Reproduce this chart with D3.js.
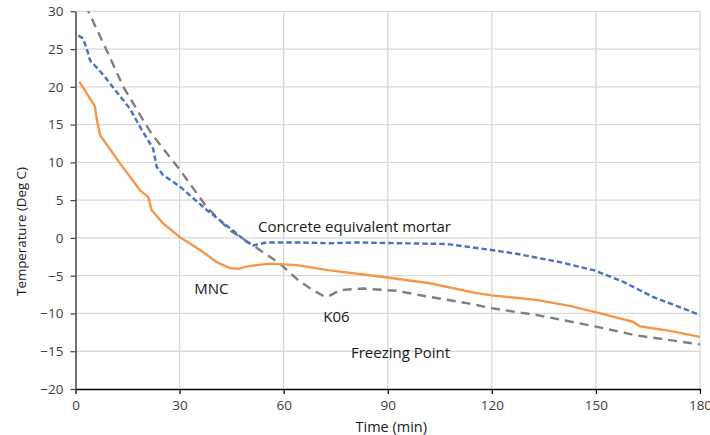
<!DOCTYPE html>
<html>
<head>
<meta charset="utf-8">
<script src="https://cdn.jsdelivr.net/npm/d3@7"></script>
<style>
  html, body { margin: 0; padding: 0; background: #fff; }
  svg { display: block; font-family: "Open Sans", "Noto Sans", sans-serif; }
</style>
</head>
<body>
<svg id="chart" width="710" height="435"></svg>
<script>
// ---- Data ----
const xTicks = [0, 30, 60, 90, 120, 150, 180];
const yTicks = [-20, -15, -10, -5, 0, 5, 10, 15, 20, 25, 30];

// Concrete equivalent mortar (blue, short dash)
const mortarTime = [0.8, 2.2, 3.2, 4.2, 8, 11.9, 15.7, 19.1, 22.4, 23.4, 25.3, 30.1, 37.8, 44.5, 49.3, 51.2, 55.1, 63.7, 73.3, 81, 92.5, 106.9, 113.6, 119.9, 127.1, 139.6, 149.6, 157.8, 166.4, 180];
const mortarTemp = [26.8, 26.4, 25.1, 23.5, 21.6, 19.3, 17.1, 14.3, 11.8, 9.4, 8.3, 6.8, 3.7, 1.3, -0.5, -1.0, -0.6, -0.6, -0.7, -0.6, -0.7, -0.8, -1.2, -1.6, -2.1, -3.2, -4.3, -5.8, -7.8, -10.2];

// MNC (orange, solid)
const mncTime = [1.1, 5.6, 6.1, 7.1, 12.8, 18.6, 21.0, 21.9, 25.3, 30.1, 35.9, 40.7, 44.5, 46.9, 49.3, 52.2, 56, 63.7, 73.3, 87.7, 102.1, 115.6, 119.9, 132.8, 142.4, 149.6, 160.7, 162.6, 171.3, 180];
const mncTemp = [20.7, 17.4, 15.8, 13.6, 9.9, 6.3, 5.4, 3.7, 1.9, 0.1, -1.6, -3.2, -4.0, -4.1, -3.8, -3.6, -3.4, -3.6, -4.3, -5.1, -6.0, -7.3, -7.6, -8.2, -9.0, -9.8, -11.1, -11.7, -12.3, -13.1];

// K06 (grey, long dash)
const k06Time = [1, 3.7, 8.5, 13.8, 19.5, 21.9, 30.1, 37.8, 44.5, 51.2, 58.9, 63.7, 68, 71.9, 73.5, 76.2, 82.9, 92.5, 102, 113.6, 119.9, 132.8, 149.6, 161.6, 180];
const k06Temp = [32.6, 30, 25.3, 20.0, 15.6, 13.8, 9.0, 4.1, 1.0, -1.0, -3.4, -5.4, -6.8, -7.8, -7.6, -6.9, -6.7, -7.0, -7.8, -8.7, -9.3, -10.2, -11.7, -12.9, -14.1];

const labels = ["Concrete equivalent mortar", "MNC", "K06", "Freezing Point"];
const xTitle = "Time (min)";
const yTitle = "Temperature (Deg C)";

// ---- Chart ----
const svg = d3.select("#chart");
const x = d3.scaleLinear().domain([0, 180]).range([75.5, 700]);
const y = d3.scaleLinear().domain([-20, 30]).range([389, 11.3]);

svg.append("defs").append("clipPath").attr("id", "plotclip")
  .append("rect").attr("x", x(0)).attr("y", y(30)).attr("width", x(180) - x(0)).attr("height", y(-20) - y(30));

// gridlines
const grid = svg.append("g");
grid.selectAll(".hg").data(yTicks.filter(d => d > -20)).join("line")
  .attr("x1", x(0)).attr("x2", x(180)).attr("y1", d => y(d)).attr("y2", d => y(d))
  .attr("stroke", "#d9d9d9").attr("stroke-width", 1.3);
grid.selectAll(".vg").data(xTicks.filter(d => d > 0)).join("line")
  .attr("x1", d => x(d)).attr("x2", d => x(d)).attr("y1", y(30)).attr("y2", y(-20))
  .attr("stroke", "#d9d9d9").attr("stroke-width", 1.3);

// axes
const xAxis = svg.append("g").attr("transform", `translate(0,${y(-20)})`)
  .call(d3.axisBottom(x).tickValues(xTicks).tickSize(5).tickSizeOuter(0).tickPadding(6));
const yAxis = svg.append("g").attr("transform", `translate(${x(0)},0)`)
  .call(d3.axisLeft(y).tickValues(yTicks).tickSize(5).tickSizeOuter(0).tickPadding(7));
[xAxis, yAxis].forEach(a => {
  a.select(".domain").attr("stroke", "#000").attr("stroke-width", 1.5);
  a.selectAll(".tick line").attr("stroke", "#000").attr("stroke-width", 1.2);
  a.selectAll("text").attr("font-family", '"Open Sans", sans-serif').attr("font-size", 13.5).attr("fill", "#404040");
});
yAxis.select(".domain").attr("stroke", "#404040");
yAxis.selectAll(".tick line").attr("stroke", "#404040");

// lines
const line = d3.line().x(d => x(d[0])).y(d => y(d[1]));
const plot = svg.append("g").attr("clip-path", "url(#plotclip)");
const series = [
  { t: k06Time, v: k06Temp, color: "#7f7f7f", dash: "9,6", w: 2.4 },
  { t: mortarTime, v: mortarTemp, color: "#4472c4", dash: "5.5,3", w: 2.4 },
  { t: mncTime, v: mncTemp, color: "#f79646", dash: null, w: 2.4 }
];
series.forEach(s => {
  plot.append("path")
    .datum(s.t.map((t, i) => [t, s.v[i]]))
    .attr("d", line)
    .attr("fill", "none")
    .attr("stroke", s.color)
    .attr("stroke-width", s.w)
    .attr("stroke-dasharray", s.dash)
    .attr("stroke-linejoin", "round");
});

// annotations
const ann = [
  { text: labels[0], t: 52.6, v: 1.47 },
  { text: labels[1], t: 34.2, v: -6.69 },
  { text: labels[2], t: 71.4, v: -10.44 },
  { text: labels[3], t: 79.4, v: -15.2 }
];
svg.selectAll(".ann").data(ann).join("text")
  .attr("x", d => x(d.t)).attr("y", d => y(d.v))
  .attr("dy", "0.35em")
  .attr("font-size", 15)
  .attr("fill", "#1a1a1a")
  .text(d => d.text);

// axis titles
svg.append("text").attr("x", 391.3).attr("y", 426.7).attr("dy", "0.35em")
  .attr("text-anchor", "middle").attr("font-size", 14.5).attr("fill", "#1a1a1a").text(xTitle);
svg.append("text").attr("transform", `translate(21.7,231.5) rotate(-90)`)
  .attr("dy", "0.35em")
  .attr("text-anchor", "middle").attr("font-size", 13.3).attr("fill", "#1a1a1a").text(yTitle);
</script>
</body>
</html>
